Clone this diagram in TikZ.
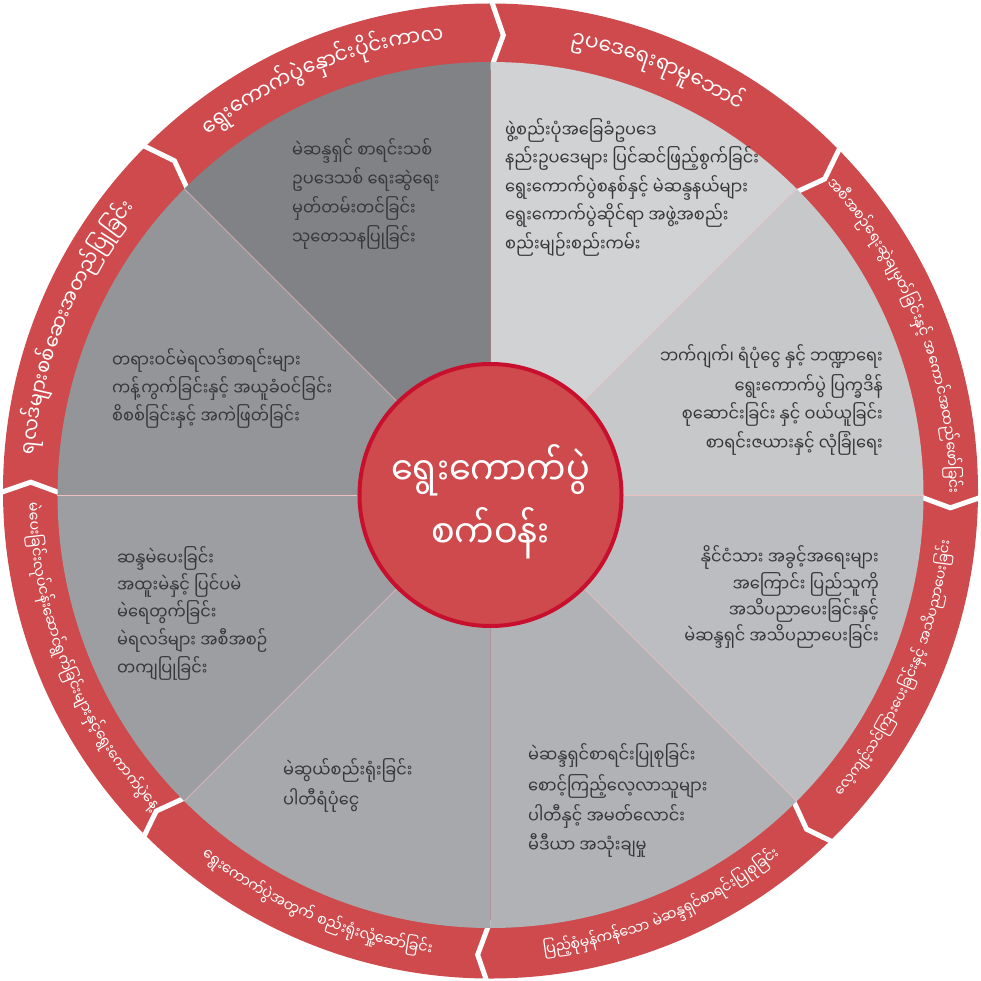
\documentclass[tikz,border=0pt]{standalone}
\usepackage{fontspec}
\newfontfamily\mm[Script=Myanmar, FakeStretch=0.9]{Noto Sans Myanmar UI}
\definecolor{ringred}{RGB}{206,74,76}
\definecolor{crim}{RGB}{200,16,46}
\definecolor{txt}{RGB}{55,55,57}
\definecolor{sA}{RGB}{209,210,212}
\definecolor{sB}{RGB}{199,200,202}
\definecolor{sC}{RGB}{188,189,192}
\definecolor{sD}{RGB}{177,178,181}
\definecolor{sE}{RGB}{167,168,171}
\definecolor{sF}{RGB}{157,158,161}
\definecolor{sG}{RGB}{147,149,152}
\definecolor{sH}{RGB}{128,130,133}
\newdimen\rtA \newdimen\rtC
\newbox\rtB
\makeatletter
\def\rt@gap{|}
% measure chunks at 10pt: store list "chunk/centre" and total width; "|" = word gap
\newcommand\rtprep[2]{%
  \rtA=0pt \def\rt@list{}%
  \@for\rtc:=#2\do{%
    \ifx\rtc\rt@gap
      \advance\rtA by 3pt
    \else
      \setbox\rtB=\hbox{\mm\fontsize{10}{12}\selectfont\rtc}%
      \rtC=\rtA \advance\rtC by 0.5\wd\rtB
      \advance\rtA by\wd\rtB
      \ifx\rt@list\@empty
        \edef\rt@list{\unexpanded\expandafter{\rtc}/\strip@pt\rtC}%
      \else
        \edef\rt@list{\unexpanded\expandafter{\rt@list},\unexpanded\expandafter{\rtc}/\strip@pt\rtC}%
      \fi
    \fi}%
  \expandafter\let\csname rtlist@#1\endcsname\rt@list
  \expandafter\edef\csname rtW@#1\endcsname{\strip@pt\rtA}%
}
% #1 name, #2 mid angle, #3 dir (1 = clockwise, tops out; -1 = ccw, tops in), #4 arc length
\newcommand\ringtext[4]{%
  \edef\rtWm{\csname rtW@#1\endcsname}%
  \expandafter\let\expandafter\rtcur\csname rtlist@#1\endcsname
  \pgfmathsetmacro\rtfs{10*#4/\rtWm}%
  \pgfmathsetmacro\rtr{460-(#3)*0.22*\rtfs}%
  \pgfmathsetmacro\rtstart{#2+(#3)*0.5*#4/\rtr*180/pi}%
  \foreach \rtc/\rtp [count=\rti] in \rtcur {%
    \pgfmathsetmacro\rta{\rtstart-(#3)*(\rtp*\rtfs/10)/\rtr*180/pi}%
    \node[ringlbl, rotate=\rta-(#3)*90] (rt#1\rti) at (\rta:\rtr) {\fontsize{\rtfs}{\rtfs}\selectfont\rtc};
  }%
}
\makeatother
\begin{document}
\rtprep{tl}{ရွေး,ကောက်,ပွဲ,နှောင်း,ပိုင်း,ကာ,လ}
\rtprep{tr}{ဥ,ပ,ဒေ,ရေး,ရာ,မူ,ဘောင်}
\rtprep{ru}{အ,စီ,အ,စဉ်,ရေး,ဆွဲ,ချ,မှတ်,ခြင်း,နှင့်,|,အ,ကောင်,အ,ထည်,ဖော်,ခြင်း}
\rtprep{rl}{လေ့,ကျင့်,သင်,ကြား,ပေး,ခြင်း,နှင့်,|,အ,သိ,ပ,ညာ,ပေး,ခြင်း}
\rtprep{br}{ပြည့်,စုံ,မှန်,ကန်,သော,|,မဲ,ဆန္ဒ,ရှင်,စာ,ရင်း,ပြု,စု,ခြင်း}
\rtprep{bl}{ရွေး,ကောက်,ပွဲ,အ,တွက်,|,စည်း,ရုံး,လှုံ့,ဆော်,ခြင်း}
\rtprep{ll}{မဲ,ပေး,ခြင်း,လုပ်,ငန်း,ဆောင်,ရွက်,ခြင်း,များ,နှင့်,ရွေး,ကောက်,ပွဲ,နေ့}
\rtprep{lu}{ရ,လဒ်,များ,စစ်,ဆေး,အ,တည်,ပြု,ခြင်း}
\begin{tikzpicture}[x=1pt,y=1pt,
  ringlbl/.style={font=\mm, text=white, inner sep=0pt, anchor=base},
  sectlbl/.style={font=\mm\fontsize{18}{21}\selectfont, text=txt, inner sep=0pt},
  chev/.style={white, line width=5pt, line join=miter, line cap=butt},
  divline/.style={ringred!35, line width=0.6pt}]
\useasboundingbox (-490.5,-485) rectangle (490.5,495);
% outer ring
\fill[ringred] (0,4) circle[radius=487.5];
\foreach \t in {0,45,...,315} \draw[chev] (\t:425) -- (\t-1.6:460) -- (\t:497);
% sectors
\foreach \a/\b/\c in {45/90/sA,0/45/sB,-45/0/sC,-90/-45/sD,-135/-90/sE,180/225/sF,135/180/sG,90/135/sH}
  \fill[\c] (0,0) -- (\a:433) arc[start angle=\a, end angle=\b, radius=433] -- cycle;
\foreach \t in {0,45,135,180,225,315} \draw[divline] (\t:133) -- (\t:433);
% ring labels
\ringtext{tl}{112}{1}{257}
\ringtext{tr}{68.5}{1}{182}
\ringtext{ru}{21.5}{1}{340}
\ringtext{rl}{-23.2}{-1}{283}
\ringtext{br}{-67.3}{-1}{260}
\ringtext{bl}{-113}{-1}{254}
\ringtext{ll}{202}{-1}{340}
\ringtext{lu}{158}{1}{270}
% sector texts (pixel coordinates)
\begin{scope}[x=1pt,y=-1pt,shift={(-490.5pt,495pt)}]
\node[sectlbl, anchor=base west] (tl1) at (292,158) {မဲဆန္ဒရှင် စာရင်းသစ်};
\node[sectlbl, anchor=base west] (tl2) at (292,187) {ဥပဒေသစ် ရေးဆွဲရေး};
\node[sectlbl, anchor=base west] (tl3) at (292,216) {မှတ်တမ်းတင်ခြင်း};
\node[sectlbl, anchor=base west] (tl4) at (292,245) {သုတေသနပြုခြင်း};
\node[sectlbl, anchor=base west] (tr1) at (505,138) {ဖွဲ့စည်းပုံအခြေခံဥပဒေ};
\node[sectlbl, anchor=base west] (tr2) at (505,166) {နည်းဥပဒေများ ပြင်ဆင်ဖြည့်စွက်ခြင်း};
\node[sectlbl, anchor=base west] (tr3) at (505,195) {ရွေးကောက်ပွဲစနစ်နှင့် မဲဆန္ဒနယ်များ};
\node[sectlbl, anchor=base west] (tr4) at (505,223) {ရွေးကောက်ပွဲဆိုင်ရာ အဖွဲ့အစည်း};
\node[sectlbl, anchor=base west] (tr5) at (505,252) {စည်းမျဉ်းစည်းကမ်း};
\node[sectlbl, anchor=base east] (ru1) at (883,363) {ဘက်ဂျက်၊ ရံပုံငွေ နှင့် ဘဏ္ဍာရေး};
\node[sectlbl, anchor=base east] (ru2) at (883,393) {ရွေးကောက်ပွဲ ပြက္ခဒိန်};
\node[sectlbl, anchor=base east] (ru3) at (883,421) {စုဆောင်းခြင်း နှင့် ဝယ်ယူခြင်း};
\node[sectlbl, anchor=base east] (ru4) at (883,450) {စာရင်းဇယားနှင့် လုံခြုံရေး};
\node[sectlbl, anchor=base east] (rl1) at (879,564) {နိုင်ငံသား အခွင့်အရေးများ};
\node[sectlbl, anchor=base east] (rl2) at (879,591) {အကြောင်း ပြည်သူကို};
\node[sectlbl, anchor=base east] (rl3) at (879,617) {အသိပညာပေးခြင်းနှင့်};
\node[sectlbl, anchor=base east] (rl4) at (879,643) {မဲဆန္ဒရှင် အသိပညာပေးခြင်း};
\node[sectlbl, anchor=base west] (br1) at (528,762) {မဲဆန္ဒရှင်စာရင်းပြုစုခြင်း};
\node[sectlbl, anchor=base west] (br2) at (528,793) {စောင့်ကြည့်လေ့လာသူများ};
\node[sectlbl, anchor=base west] (br3) at (528,823) {ပါတီနှင့် အမတ်လောင်း};
\node[sectlbl, anchor=base west] (br4) at (528,852) {မီဒီယာ အသုံးချမှု};
\node[sectlbl, anchor=base west] (bl1) at (283,777) {မဲဆွယ်စည်းရုံးခြင်း};
\node[sectlbl, anchor=base west] (bl2) at (283,807) {ပါတီရံပုံငွေ};
\node[sectlbl, anchor=base west] (ll1) at (117,565) {ဆန္ဒမဲပေးခြင်း};
\node[sectlbl, anchor=base west] (ll2) at (117,592) {အထူးမဲနှင့် ပြင်ပမဲ};
\node[sectlbl, anchor=base west] (ll3) at (117,619) {မဲရေတွက်ခြင်း};
\node[sectlbl, anchor=base west] (ll4) at (117,647) {မဲရလဒ်များ အစီအစဉ်};
\node[sectlbl, anchor=base west] (ll5) at (117,675) {တကျပြုခြင်း};
\node[sectlbl, anchor=base west] (lu1) at (112,367) {တရားဝင်မဲရလဒ်စာရင်းများ};
\node[sectlbl, anchor=base west] (lu2) at (112,395) {ကန့်ကွက်ခြင်းနှင့် အယူခံဝင်ခြင်း};
\node[sectlbl, anchor=base west] (lu3) at (112,423) {စိစစ်ခြင်းနှင့် အကဲဖြတ်ခြင်း};
\end{scope}
% hub
\node[circle, fill=ringred, draw=crim, line width=4pt, minimum size=262pt, inner sep=0pt] (hub) at (0,0) {};
\node[font=\mm\fontsize{39}{44}\selectfont, text=white, anchor=base, inner sep=0pt] (hub1) at (0,10) {ရွေးကောက်ပွဲ};
\node[font=\mm\fontsize{39}{44}\selectfont, text=white, anchor=base, inner sep=0pt] (hub2) at (0,-53) {စက်ဝန်း};
\end{tikzpicture}
\end{document}
